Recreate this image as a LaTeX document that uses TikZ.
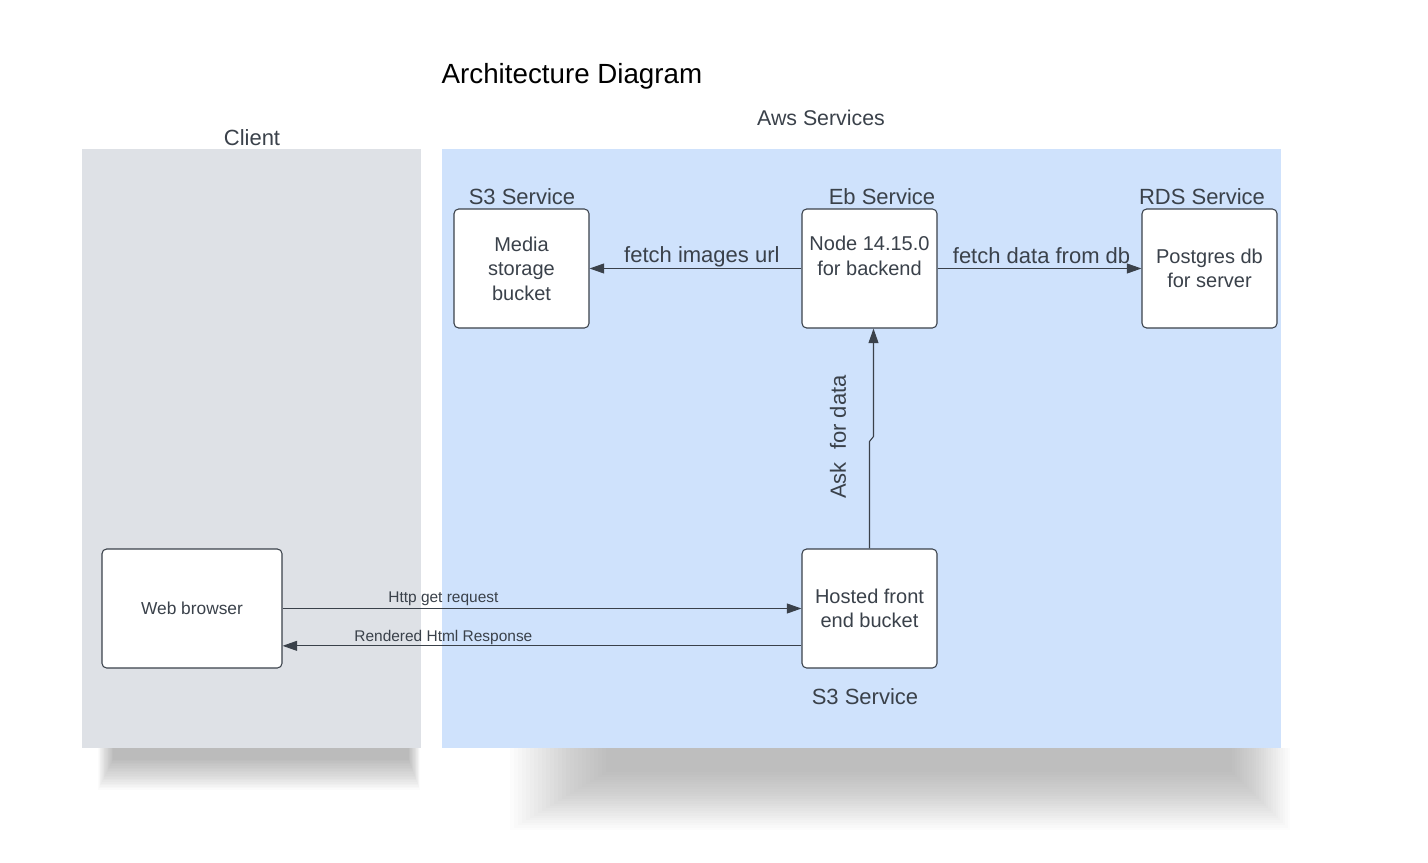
\documentclass[tikz,border=0pt]{standalone}
\usepackage{fontspec}
\setmainfont{Liberation Sans}
\usetikzlibrary{arrows.meta}
\definecolor{ink}{HTML}{3A414A}
\definecolor{clientbg}{HTML}{DEE1E6}
\definecolor{awsbg}{HTML}{CFE2FC}
\tikzset{
  box/.style={draw=ink, fill=white, rounded corners=3.5pt, line width=0.8pt,
    minimum width=101.25pt, minimum height=89.25pt, align=center, text=ink,
    font=\fontsize{15}{18.4}\selectfont},
  head/.style={text=ink, font=\fontsize{16.5}{20}\selectfont},
  lbl/.style={text=ink, font=\fontsize{16.5}{20}\selectfont, inner sep=1pt},
  small/.style={text=ink, font=\fontsize{11.6}{14}\selectfont, inner sep=2pt},
  arr/.style={draw=ink, line width=0.8pt, -{Triangle[length=11pt,width=7.5pt]}},
}
\begin{document}
\begin{tikzpicture}[x=0.75pt, y=-0.75pt]
\useasboundingbox (0,0) rectangle (1428,863);
% shadows
\foreach \k in {0,...,19}
  \fill[black, opacity=0.016] (98+\k*0.8,748) rectangle (420-\k*0.6,790-\k*1.6);
\foreach \k in {0,...,24}
  \fill[black, opacity=0.012] (510+\k*4,748) rectangle (1290-\k*2.4,830-\k*2.4);
% panels
\fill[clientbg] (82,149) rectangle (421,748);
\fill[awsbg] (442,149) rectangle (1281,748);
% titles
\node[anchor=west, font=\fontsize{20.8}{24}\selectfont] (title) at (437,76) {Architecture Diagram};
\node[head, font=\fontsize{16}{19}\selectfont] (aws) at (821,118) {Aws Services};
\node[head] (client) at (252,138) {Client};
\node[head] (s3hd) at (522,197) {S3 Service};
\node[head] (ebhd) at (882,197) {Eb Service};
\node[head] (rdshd) at (1202,197) {RDS Service};
\node[head] (s3low) at (865,697) {S3 Service};
% boxes
\node[box] (media) at (521.5,268.5) {Media\\storage\\bucket};
\node[box] (back) at (869.5,268.5) {Node 14.15.0\\for backend\\[-5pt]\strut};
\node[box] (pg) at (1209.5,268.5) {Postgres db\\for server};
\node[box] (front) at (869.5,608.5) {Hosted front\\end bucket};
\node[box, minimum width=135pt, font=\fontsize{13}{15}\selectfont] (web) at (192,608.5) {Web browser};
% connectors
\draw[arr] (back.west) -- node[lbl, above, pos=0.47] {fetch images url} (media.east);
\draw[arr] (back.east) -- node[lbl, above=2pt, pos=0.51] {fetch data from db} (pg.west);
\draw[arr] (front.north) -- ++(0,-107) -- ++(4,-5) -- ([xshift=3pt]back.south);
\node[lbl, rotate=90] (ask) at (838,437) {Ask\hspace{0.55em}for data};
\draw[arr] (web.east) -- node[small, above=0pt, pos=0.31] {Http get request} (front.west);
\draw[arr] ([yshift=-28pt]front.west) -- node[small, above=-1.5pt, pos=0.69] {Rendered Html Response} ([yshift=-28pt]web.east);
\end{tikzpicture}
\end{document}
